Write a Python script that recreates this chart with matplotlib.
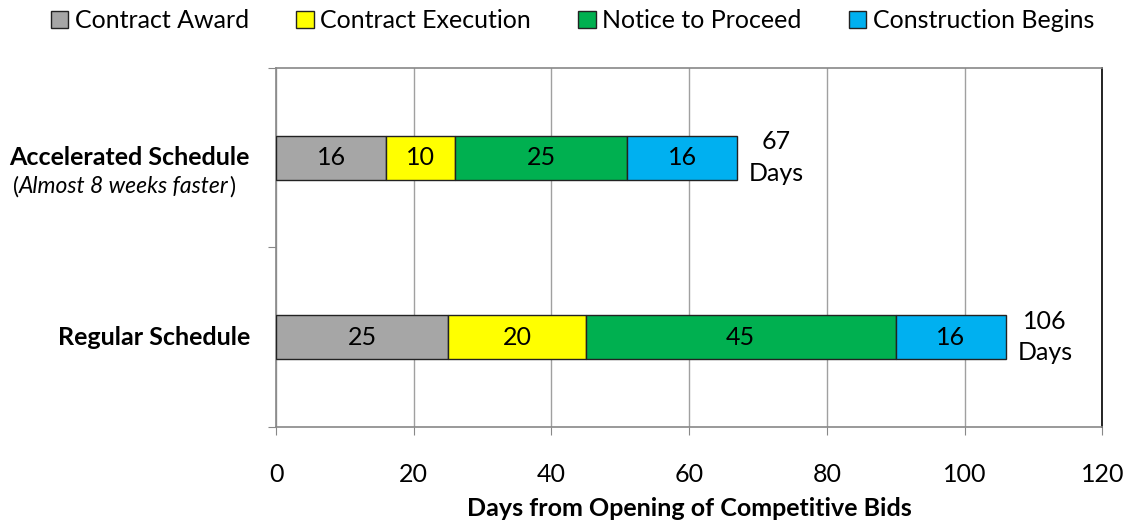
import numpy as np
import matplotlib
matplotlib.use("Agg")
import matplotlib.pyplot as plt

plt.rcParams['font.family'] = ['Lato', 'DejaVu Sans']

schedules = ['Regular Schedule', 'Accelerated Schedule']
phases = ['Contract Award', 'Contract Execution', 'Notice to Proceed', 'Construction Begins']
durations = {
    'Contract Award': [25, 16],
    'Contract Execution': [20, 10],
    'Notice to Proceed': [45, 25],
    'Construction Begins': [16, 16],
}
colors = ['#A6A6A6', '#FFFF00', '#00B050', '#00B0F0']
totals = [106, 67]

fs = 18

fig = plt.figure(figsize=(11.27, 5.23), dpi=100)
ax = fig.add_axes([0.245, 0.184, 0.733, 0.686])

y = np.arange(len(schedules))
left = np.zeros(len(schedules))
for name, c in zip(phases, colors):
    vals = np.array(durations[name])
    bars = ax.barh(y, vals, left=left, height=0.245, color=c, edgecolor='#222222',
                   linewidth=1, label=name, zorder=3)
    for b, v in zip(bars, vals):
        ax.text(b.get_x() + b.get_width() / 2, b.get_y() + b.get_height() / 2, str(v),
                ha='center', va='center', fontsize=fs, zorder=4)
    left += vals

for yi, t, l in zip(y, totals, left):
    ax.text(l + 5.7, yi, f'{t}\nDays', ha='center', va='center', fontsize=fs,
            linespacing=1.45)

ax.set_xlim(0, 120)
ax.set_ylim(-0.5, 1.5)
ax.set_xticks(np.arange(0, 121, 20))
ax.tick_params(axis='x', labelsize=fs, length=6, color='#888888', pad=20)
ax.set_yticks([-0.5, 0.5, 1.5])
ax.set_yticklabels([])
ax.tick_params(axis='y', length=6, color='#888888')
ax.grid(axis='x', color='#A0A0A0', linewidth=1, zorder=0)

for s in ['left', 'bottom', 'top']:
    ax.spines[s].set_color('#888888')
    ax.spines[s].set_linewidth(1.2)
ax.spines['right'].set_color('black')
ax.spines['right'].set_linewidth(1.2)

ax.set_xlabel('Days from Opening of Competitive Bids', fontsize=18, fontweight='bold',
              labelpad=8)

# category labels
ax.text(-3.8, 0, 'Regular Schedule', ha='right', va='center', fontsize=fs,
        fontweight='bold')
ax.text(-3.8, 1.0, 'Accelerated Schedule', ha='right', va='center', fontsize=fs,
        fontweight='bold')

# "(Almost 8 weeks faster)" with italic text and upright parentheses
sub_y = 1 - 187 / 523
mid = fig.text(124 / 1127, sub_y, 'Almost 8 weeks faster', ha='center', va='center',
               fontsize=16.5, style='italic')
fig.canvas.draw()
bb = mid.get_window_extent().transformed(fig.transFigure.inverted())
fig.text(bb.x0, sub_y, '(', ha='right', va='center', fontsize=16.5)
fig.text(bb.x1 + 0.0005, sub_y, ')', ha='left', va='center', fontsize=16.5)

fig.legend(loc='upper center', bbox_to_anchor=(0.508, 1.025), ncol=4, frameon=False,
           fontsize=fs, handlelength=0.7, handleheight=0.7, handletextpad=0.25,
           columnspacing=1.9)

fig.savefig('out.png', dpi=100)
